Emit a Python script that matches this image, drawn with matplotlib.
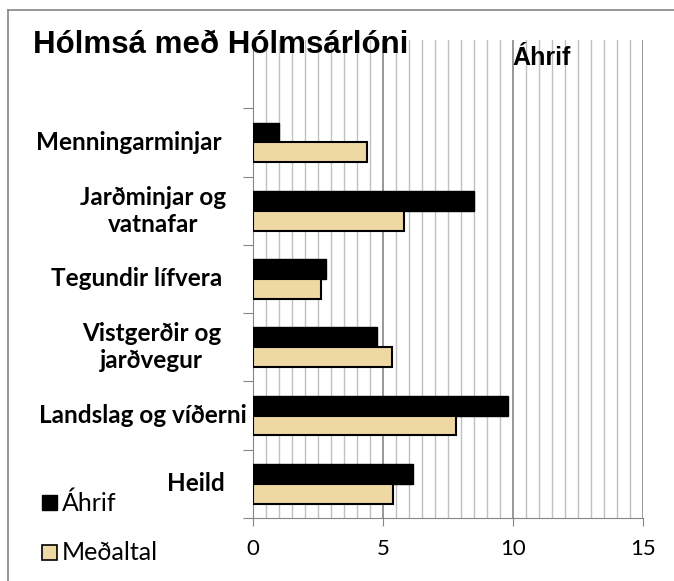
import matplotlib
matplotlib.use("Agg")
import matplotlib.pyplot as plt
from matplotlib.lines import Line2D
from matplotlib.patches import Rectangle

flokkar = ["Heild", "Landslag og víðerni", "Vistgerðir og\njarðvegur",
           "Tegundir lífvera", "Jarðminjar og\nvatnafar", "Menningarminjar"]
ahrif = [6.15, 9.8, 4.75, 2.8, 8.5, 1.0]
medaltal = [5.4, 7.8, 5.35, 2.6, 5.8, 4.4]
x_merki = [0, 5, 10, 15]

svart = "#000000"
ljos = "#EFD9A2"

fig = plt.figure(figsize=(6.74, 5.81), dpi=100)
ax = fig.add_axes([253 / 674, 1 - 518 / 581, 390 / 674, 478 / 581])

y = list(range(len(flokkar)))
h = 0.29
ax.barh([v + h / 2 for v in y], ahrif, height=h, color=svart, edgecolor=svart, lw=1, zorder=3)
ax.barh([v - h / 2 for v in y], medaltal, height=h, color=ljos, edgecolor=svart, lw=1.5, zorder=3)

ax.set_xlim(0, 15)
ax.set_ylim(-0.5, len(flokkar) + 0.5)

# gridlines
for i in range(1, 31):
    xv = i * 0.5
    if xv % 5 == 0:
        ax.axvline(xv, color="#868686", lw=1.2, zorder=1)
    else:
        ax.axvline(xv, color="#C0C0C0", lw=1.0, zorder=1)

ax.set_xticks(x_merki)
ax.set_xticklabels([str(v) for v in x_merki], fontsize=16, family="Lato")
ax.tick_params(axis="x", length=6, color="#868686", pad=9)
ax.set_yticks([v - 0.5 for v in range(len(flokkar) + 1)])
ax.set_yticklabels([])
ax.tick_params(axis="y", length=7, color="#868686")

for s in ["top", "right"]:
    ax.spines[s].set_visible(False)
ax.spines["left"].set_color("#868686")
ax.spines["bottom"].set_color("#868686")

# category labels
haegri = [225, 247, 221, 222, 226, 222]
for i, nafn in enumerate(flokkar):
    ax.text((haegri[i] - 253) / 390, i, nafn, transform=ax.get_yaxis_transform(),
            ha="right", va="center", multialignment="center",
            fontsize=17.5, fontweight="bold", family="Lato", linespacing=1.2)

fig.text(33 / 674, 1 - 45 / 581, "Hólmsá með Hólmsárlóni", fontsize=22.5,
         fontweight="bold", family="Liberation Sans", va="center", ha="left")
fig.text(512 / 674, 1 - 58 / 581, "Áhrif", fontsize=18, fontweight="bold",
         family="Liberation Sans", va="center", ha="left")

# legend
fig.add_artist(Rectangle((42 / 674, 1 - 510 / 581), 15 / 674, 15 / 581,
                         facecolor=svart, edgecolor=svart, transform=fig.transFigure))
fig.add_artist(Rectangle((42 / 674, 1 - 560 / 581), 15 / 674, 15 / 581,
                         facecolor=ljos, edgecolor=svart, lw=1.2, transform=fig.transFigure))
fig.text(62 / 674, 1 - 503 / 581, "Áhrif", fontsize=18, family="Lato", va="center")
fig.text(62 / 674, 1 - 552 / 581, "Meðaltal", fontsize=18, family="Lato", va="center")

# outer frame
fig.add_artist(Line2D([8 / 674, 1], [1 - 10 / 581, 1 - 10 / 581], color="#868686", lw=1.2))
fig.add_artist(Line2D([8 / 674, 8 / 674], [0, 1 - 10 / 581], color="#868686", lw=1.2))

fig.savefig("out.png", dpi=100)
